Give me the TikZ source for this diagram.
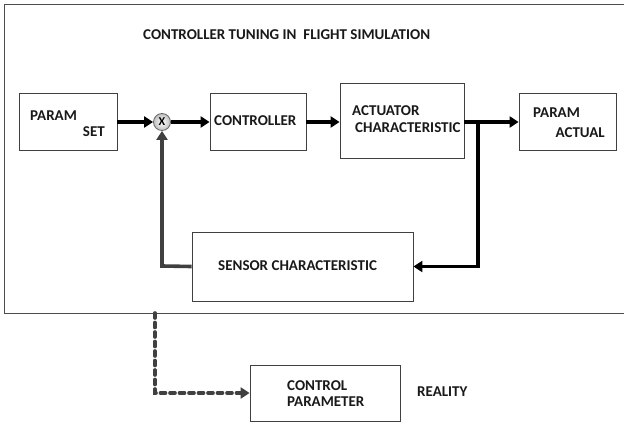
\documentclass[tikz,border=0pt]{standalone}
\usepackage{fontspec}
\setmainfont{Carlito}
\usetikzlibrary{arrows.meta}
\tikzset{
  blk/.style={draw=black!75, line width=0.8pt, fill=white, inner sep=0pt},
  lbl/.style={anchor=west, inner sep=0pt, font=\fontsize{15}{17}\selectfont\bfseries, text=black!90},
  sig/.style={line width=3.6pt, -{Triangle[length=9pt,width=11pt]}},
  fb/.style={sig, draw=black!75},
  dsh/.style={line width=3.6pt, draw=black!75, dash pattern=on 5pt off 4.5pt, line cap=round, -{Triangle[length=9pt,width=11pt]}}
}
\begin{document}
\begin{tikzpicture}[x=1pt,y=-1pt]
\useasboundingbox (0,0) rectangle (624,423);
% frame of the simulation
\draw[line width=1pt, black!70] (630,4) -- (4,4) -- (4,313) -- (630,313);
\node[lbl] (title) at (143,35) {CONTROLLER TUNING IN\ \ FLIGHT SIMULATION};

% blocks
\node[blk, minimum width=98pt, minimum height=57pt] (pset) at (68,121.5) {};
\node[blk, minimum width=96pt, minimum height=57pt] (ctrl) at (258,121.5) {};
\node[blk, minimum width=124pt, minimum height=75pt] (act) at (402,120.5) {};
\node[blk, minimum width=97pt, minimum height=57pt] (pact) at (567.5,121.5) {};
\node[blk, minimum width=221pt, minimum height=69pt] (sens) at (302.5,266.5) {};
\node[blk, minimum width=150pt, minimum height=56pt] (cpar) at (325,393) {};
\node[circle, draw=black!60, line width=0.8pt, minimum size=17pt, inner sep=0pt,
      inner color=white, outer color=black!25] (sum) at (162,122) {};
\node[inner sep=0pt, font=\fontsize{12}{14}\selectfont\bfseries] (sumx) at (sum) {X};

% texts
\node[lbl] (tparam) at (30,116) {PARAM};
\node[lbl, anchor=east] (tset) at (105,132) {SET};
\node[lbl] (tctrl) at (214,121) {CONTROLLER};
\node[lbl] (tact) at (352,111) {ACTUATOR};
\node[lbl] (tchar) at (355,128) {CHARACTERISTIC};
\node[lbl] (tparam2) at (533,113) {PARAM};
\node[lbl, anchor=east] (tactual) at (605,133) {ACTUAL};
\node[lbl] (tsens) at (218,266) {SENSOR CHARACTERISTIC};
\node[lbl] (tcon) at (287,386) {CONTROL};
\node[lbl] (tpar) at (287,402) {PARAMETER};
\node[lbl] (treal) at (417,392) {REALITY};

% connectors
\coordinate (br) at (478,122);
\coordinate (fl) at (162,266);
\coordinate (dtop) at (155,313);
\coordinate (dbot) at (155,393);
\draw[sig] (pset.east |- sum) -- (sum.west);
\draw[sig] (sum.east) -- (ctrl.west |- sum);
\draw[sig] (ctrl.east |- sum) -- (act.west |- sum);
\draw[sig] (act.east |- sum) -- (pact.west |- sum);
\draw[sig] (br) -- (br |- sens.east) -- (sens.east);
\draw[fb] (sens.west) -- (fl) -- (sum.south);
\draw[dsh] (dtop) -- (dbot) -- (cpar.west);
\end{tikzpicture}
\end{document}
